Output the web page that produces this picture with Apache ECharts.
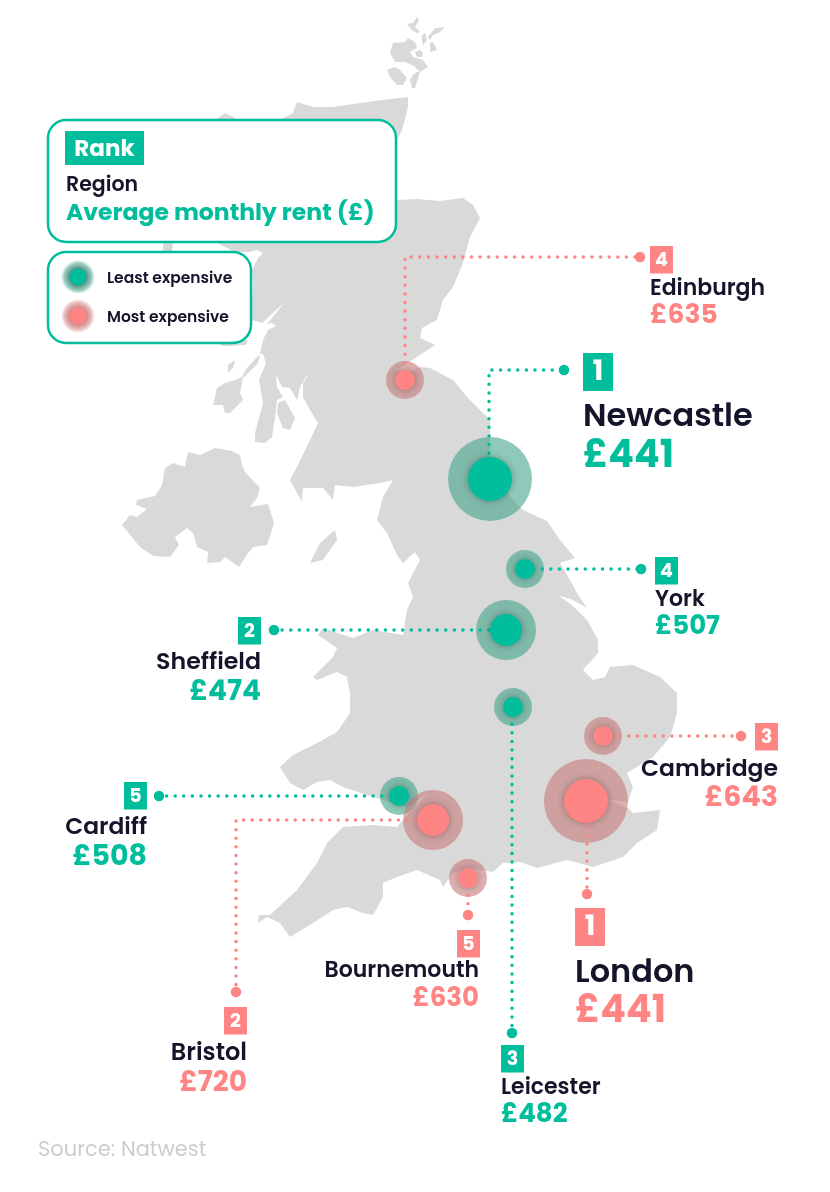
<!DOCTYPE html>
<html>
<head>
<meta charset="utf-8">
<style>html,body{margin:0;padding:0;background:#fff}#main{width:830px;height:1192px}</style>
<script src="https://cdn.jsdelivr.net/npm/echarts@6/dist/echarts.min.js"></script>
</head>
<body>
<div id="main"></div>
<script>
// values
var cities = ['Edinburgh', 'Newcastle', 'York', 'Sheffield', 'Leicester', 'Cambridge', 'London', 'Cardiff', 'Bristol', 'Bournemouth'];
var ranks = [4, 1, 4, 2, 3, 3, 1, 5, 2, 5];
var rents = [635, 441, 507, 474, 482, 643, 441, 508, 720, 630];
var mostExpensive = [true, false, false, false, false, true, true, false, true, true];

// layout, in picture pixels
var cityPos = [[405, 380], [490, 479], [525, 569], [506, 630], [513, 707], [603, 736], [586, 801], [399, 796], [433, 820], [468, 878]];
var leaderPaths = [
    [[405, 380], [405, 257], [640, 257]],
    [[489, 479], [489, 370], [564, 370]],
    [[525, 569], [641, 569]],
    [[506, 630], [274, 630]],
    [[512, 707], [512, 1033]],
    [[603, 736], [741, 736]],
    [[587, 801], [587, 894]],
    [[399, 796], [159, 796]],
    [[433, 820], [236, 820], [236, 992]],
    [[468, 878], [468, 915]]
];
// [box left, box top, text anchor x, align, name y, rent y, name font, rent font]
var labelPos = [
    [650, 246, 650, 'left', 289, 316, 22, 26.5],
    [583, 353, 583, 'left', 418, 457, 32, 38],
    [655, 557, 655, 'left', 600, 627, 22, 26],
    [238, 617, 261, 'right', 663, 693, 23.7, 28],
    [501, 1045, 501, 'left', 1088, 1115, 22, 26],
    [755, 723, 778, 'right', 770, 799, 23.5, 28.5],
    [575, 908, 575, 'left', 974, 1012, 32, 38],
    [124, 782, 147, 'right', 828, 858, 23.4, 28.5],
    [224, 1007, 247, 'right', 1054, 1084, 24, 28],
    [457, 930, 479, 'right', 971, 999, 22, 26]
];
var haloSize = {1: 84, 2: 60, 3: 38, 4: 38, 5: 38};
var discSize = {1: 44, 2: 32, 3: 20, 4: 20, 5: 20};

var GREEN = '#00bd9b', RED = '#ff8585', INK = '#14142b';
var HALO_GREEN = 'rgba(62,162,136,0.58)', HALO_RED = 'rgba(198,119,119,0.58)';
var FONT = 'Poppins, Inter, "Noto Sans", sans-serif';

// land outline, in picture pixels
var mainland = [[293,113],[297,102],[313,107],[333,107],[360,103],[383,100],[408,97],[408,107],[402,130],[397,140],[397,200],[417,199],[440,201],[463,198],[473,205],[480,218],[470,237],[463,263],[453,287],[443,300],[437,320],[422,328],[420,338],[435,345],[423,353],[395,371],[410,372],[420,367],[430,368],[453,380],[467,397],[480,410],[490,420],[490,457],[510,497],[523,510],[547,521],[560,540],[575,558],[560,563],[570,580],[577,593],[587,608],[573,600],[558,595],[573,606],[587,620],[598,640],[598,653],[583,670],[593,680],[605,677],[610,667],[633,665],[660,677],[677,693],[677,713],[670,737],[653,757],[627,773],[633,787],[628,802],[610,800],[628,808],[633,813],[660,810],[657,830],[637,843],[623,857],[593,867],[567,860],[537,868],[520,862],[503,863],[493,872],[470,868],[453,873],[443,887],[440,880],[417,870],[397,877],[383,883],[383,897],[373,915],[363,913],[347,907],[333,910],[313,923],[290,937],[280,923],[267,917],[258,923],[259,915],[270,915],[297,890],[317,863],[327,843],[343,827],[373,825],[397,827],[403,820],[428,793],[407,808],[383,800],[367,795],[343,787],[330,780],[317,782],[303,790],[290,783],[285,775],[280,767],[293,755],[317,743],[337,732],[350,713],[350,693],[347,677],[337,672],[317,680],[313,677],[333,657],[337,648],[318,635],[323,628],[353,638],[373,630],[403,635],[407,610],[413,597],[408,583],[420,560],[415,552],[403,563],[397,555],[387,533],[377,520],[383,497],[393,480],[380,483],[353,487],[335,485],[333,500],[323,488],[303,488],[302,502],[290,480],[297,467],[310,440],[318,423],[310,410],[303,397],[303,383],[308,375],[318,377],[307,375],[300,387],[297,400],[290,388],[282,387],[276,375],[277,387],[283,397],[277,400],[275,417],[272,437],[265,443],[255,442],[255,433],[263,403],[259,380],[266,363],[263,354],[260,354],[263,340],[268,330],[276,326],[272,323],[267,324],[285,302],[262,323],[256,321],[250,320],[253,287],[252,270],[258,258],[263,253],[257,250],[250,252],[235,252],[217,243],[230,200],[240,140]];
var northernIreland = [[188,452],[200,455],[215,448],[232,451],[240,455],[242,465],[245,472],[260,488],[257,498],[250,507],[268,504],[274,523],[267,545],[253,547],[248,553],[239,567],[225,557],[220,562],[207,563],[208,552],[197,547],[193,533],[187,528],[175,537],[179,545],[170,557],[153,556],[140,547],[122,525],[130,515],[137,517],[147,509],[136,505],[137,500],[155,496],[162,485],[165,468],[173,463],[185,467]];
var islands = [
    [[257,357],[260,355],[258,363],[243,378],[240,393],[243,400],[230,413],[225,413],[223,405],[213,405],[217,388],[225,383],[235,380],[242,377],[247,368]],
    [[228,365],[235,360],[233,368],[228,373]],
    [[278,403],[285,400],[295,418],[290,430],[283,428],[277,413]],
    [[335,530],[337,540],[323,560],[310,563],[320,543]],
    [[393,43],[405,42],[408,38],[415,42],[417,48],[410,52],[413,57],[423,60],[428,67],[420,72],[414,66],[405,62],[395,62],[390,53]],
    [[387,70],[395,67],[400,70],[407,78],[403,85],[397,85],[390,77]],
    [[413,75],[417,72],[420,72],[415,88],[412,88],[410,80]],
    [[407,24],[413,23],[417,17],[419,20],[415,27],[420,32],[417,33],[412,30]],
    [[422,35],[425,33],[427,40],[423,45],[422,40]],
    [[428,37],[435,28],[445,27],[440,32],[433,35],[430,40]],
    [[415,52],[420,50],[423,53],[422,57],[417,57]],
    [[430,43],[433,42],[437,50],[430,52]],
    [[215,120],[225,113],[235,118],[233,125],[215,125]],
    [[163,240],[173,240],[172,254],[163,254]],
    [[215,340],[248,340],[246,345],[230,346],[222,346]]
];

function toMap(p) {
    return [p[0], -p[1]];
}
function ring(pts) {
    var r = pts.map(toMap);
    r.push(r[0]);
    return [r];
}

echarts.registerMap('uk', {
    type: 'FeatureCollection',
    features: [{
        type: 'Feature',
        properties: {name: 'UK'},
        geometry: {
            type: 'MultiPolygon',
            coordinates: [ring(mainland), ring(northernIreland)].concat(islands.map(ring))
        }
    }]
});

function pointData() {
    return cities.map(function (c, i) {
        return {name: c, value: toMap(cityPos[i])};
    });
}

function labelItem(params, api) {
    var i = params.dataIndex;
    var pos = labelPos[i];
    var big = ranks[i] == 1;
    var colour = mostExpensive[i] ? RED : GREEN;
    var box = api.coord([pos[0], -pos[1]]);
    var w = big ? 30 : 23, h = big ? 38 : 27.5;
    var anchor = api.coord([pos[2], -pos[4]]);
    var anchor2 = api.coord([pos[2], -pos[5]]);
    return {
        type: 'group',
        silent: true,
        children: [
            {type: 'rect', shape: {x: box[0], y: box[1], width: w, height: h}, style: {fill: colour}},
            {type: 'text', style: {x: box[0] + w / 2, y: box[1] + h / 2 + 1, text: String(ranks[i]), fill: '#fff', align: 'center', verticalAlign: 'middle', font: '700 ' + (big ? 28 : 19) + 'px ' + FONT}},
            {type: 'text', style: {x: anchor[0], y: anchor[1], text: cities[i], fill: INK, align: pos[3], verticalAlign: 'middle', font: '600 ' + pos[6] + 'px ' + FONT}},
            {type: 'text', style: {x: anchor2[0], y: anchor2[1], text: '£' + rents[i], fill: colour, align: pos[3], verticalAlign: 'middle', font: '700 ' + pos[7] + 'px ' + FONT}}
        ]
    };
}

function legendGraphics() {
    function box(x, y, w, h) {
        return {type: 'rect', z: 50, shape: {x: x, y: y, width: w, height: h, r: 18}, style: {fill: '#fff', stroke: GREEN, lineWidth: 2.5}};
    }
    function txt(x, y, s, fill, font) {
        return {type: 'text', z: 51, style: {x: x, y: y, text: s, fill: fill, font: font + ' ' + FONT, verticalAlign: 'middle'}};
    }
    // the legend halos are soft, unlike the ones on the map
    function dot(y, dark, mid, clear, c) {
        return [
            {type: 'circle', z: 51, shape: {cx: 78, cy: y, r: 17}, style: {fill: new echarts.graphic.RadialGradient(0.5, 0.5, 0.5, [
                {offset: 0.45, color: dark},
                {offset: 0.8, color: mid},
                {offset: 1, color: clear}
            ])}},
            {type: 'circle', z: 52, shape: {cx: 78, cy: y, r: 8.5}, style: {fill: c}}
        ];
    }
    return [
        box(48, 120, 348, 122),
        box(48, 252, 203, 91),
        {type: 'rect', z: 51, shape: {x: 65, y: 131, width: 79, height: 34}, style: {fill: GREEN}},
        {type: 'text', z: 52, style: {x: 104.5, y: 150, text: 'Rank', fill: '#fff', align: 'center', verticalAlign: 'middle', font: '700 23px ' + FONT}},
        txt(66, 186, 'Region', INK, '600 20.5px'),
        txt(66, 214, 'Average monthly rent (£)', GREEN, '700 23.5px'),
        txt(107, 279, 'Least expensive', INK, '600 15.5px'),
        txt(107, 318, 'Most expensive', INK, '600 15.5px'),
        {type: 'text', z: 5, style: {x: 38, y: 1151, text: 'Source: Natwest', fill: '#cdcdcd', font: '400 21px ' + FONT, verticalAlign: 'middle'}}
    ].concat(
        dot(277, 'rgba(50,110,100,0.85)', 'rgba(62,162,136,0.55)', 'rgba(62,162,136,0)', GREEN),
        dot(316, 'rgba(170,100,100,0.8)', 'rgba(225,130,130,0.55)', 'rgba(225,130,130,0)', RED)
    );
}

var myChart = echarts.init(document.getElementById('main'));
myChart.setOption({
    animation: false,
    backgroundColor: '#fff',
    geo: {
        map: 'uk',
        left: 0,
        top: 0,
        width: 830,
        height: 1192,
        aspectScale: 1,
        boundingCoords: [[0, 0], [830, -1192]],
        roam: false,
        silent: true,
        label: {show: false},
        itemStyle: {areaColor: '#d9d9d9', borderWidth: 0},
        emphasis: {disabled: true}
    },
    graphic: legendGraphics(),
    series: [
        {
            name: 'halo',
            type: 'scatter',
            coordinateSystem: 'geo',
            silent: true,
            z: 2,
            symbol: 'circle',
            symbolSize: function (v, p) { return haloSize[ranks[p.dataIndex]]; },
            itemStyle: {
                opacity: 1,
                color: function (p) {
                    return mostExpensive[p.dataIndex] ? HALO_RED : HALO_GREEN;
                }
            },
            data: pointData()
        },
        {
            name: 'leaders',
            type: 'lines',
            coordinateSystem: 'geo',
            polyline: true,
            silent: true,
            z: 3,
            lineStyle: {width: 3.5, opacity: 1, cap: 'round', type: [0.01, 8.6], curveness: 0},
            data: leaderPaths.map(function (path, i) {
                return {coords: path.map(toMap), lineStyle: {color: mostExpensive[i] ? RED : GREEN}};
            })
        },
        {
            name: 'ends',
            type: 'scatter',
            coordinateSystem: 'geo',
            silent: true,
            z: 3,
            symbol: 'circle',
            symbolSize: 10.5,
            itemStyle: {
                opacity: 1,
                color: function (p) { return mostExpensive[p.dataIndex] ? RED : GREEN; }
            },
            data: leaderPaths.map(function (path) { return toMap(path[path.length - 1]); })
        },
        {
            name: 'disc',
            type: 'scatter',
            coordinateSystem: 'geo',
            silent: true,
            z: 4,
            symbol: 'circle',
            symbolSize: function (v, p) { return discSize[ranks[p.dataIndex]]; },
            itemStyle: {
                opacity: 1,
                shadowBlur: 7,
                shadowColor: 'rgba(0,0,0,0.3)',
                color: function (p) { return mostExpensive[p.dataIndex] ? RED : GREEN; }
            },
            data: pointData()
        },
        {
            name: 'labels',
            type: 'custom',
            coordinateSystem: 'geo',
            silent: true,
            z: 6,
            renderItem: labelItem,
            data: pointData()
        }
    ]
});
</script>
</body>
</html>
